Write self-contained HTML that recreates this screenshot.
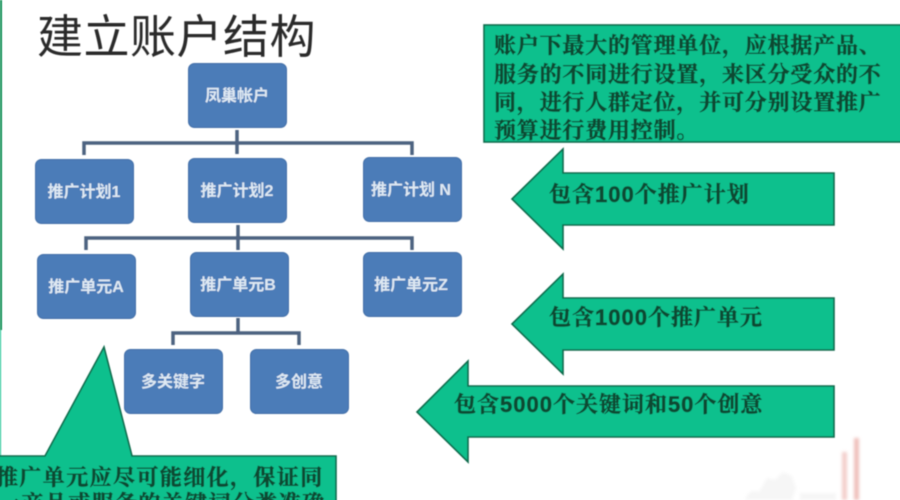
<!DOCTYPE html>
<html><head><meta charset="utf-8"><style>
html,body{margin:0;padding:0;background:#fff;width:900px;height:500px;overflow:hidden}
svg{display:block;position:absolute;left:0;top:0}
text{font-family:"Liberation Sans","Noto Sans CJK SC",sans-serif}
.b{fill:#4b7bb8;stroke:#4470a8;stroke-width:1}
.w{fill:#dfe9f3;font-size:16px;font-weight:700;text-anchor:middle}
.g{fill:#10c08d;stroke:#0e6b4c;stroke-width:1.600}
.t{fill:#0b4a33;stroke:#0b4a33;stroke-width:.5px;font-size:22px;font-weight:700;letter-spacing:1px;font-family:"Liberation Sans","Noto Serif CJK SC",serif}
.l{fill:none;stroke:#4d6280;stroke-width:3.500}
</style></head><body>
<svg width="900" height="500" viewBox="0 0 900 500" xmlns="http://www.w3.org/2000/svg">
<defs><filter id="s" x="-5%" y="-5%" width="110%" height="110%"><feGaussianBlur stdDeviation="0.6"/></filter>
<filter id="s2" x="-50%" y="-10%" width="200%" height="120%"><feGaussianBlur stdDeviation="1.5"/></filter></defs>
<rect width="900" height="500" fill="#fff"/>
<g filter="url(#s2)">
<rect x="842" y="452" width="5" height="48" fill="#efbdba" opacity="0.75"/>
<rect x="854" y="438" width="5" height="62" fill="#ebb0ab" opacity="0.8"/>
<path d="M745 500q4-12 14-8l8-14 8 2 8-8 9 4 4 12-4 12z" fill="#f6f6f6"/>
<rect x="800" y="493" width="36" height="7" fill="#f6f6f6"/>
</g>
<g filter="url(#s)">
<rect x="0" y="0" width="2" height="330" fill="#0a8f55"/>
<rect x="0" y="330" width="1" height="130" fill="#0dbf8c"/>
<text x="37" y="53" font-size="46" fill="#2a2a2a" letter-spacing="0.500">建立账户结构</text>

<path class="l" d="M237 130V154M84 155V143H412V155"/>
<path class="l" d="M238 225V250M86 250V238H412V250"/>
<path class="l" d="M238 318V333M173 345V333H299V345"/>

<rect class="b" x="188.500" y="63.500" width="98" height="64" rx="6"/>
<rect class="b" x="35.500" y="159.500" width="98" height="64" rx="6"/>
<rect class="b" x="188.500" y="158.500" width="98" height="64" rx="6"/>
<rect class="b" x="363.500" y="157.500" width="98" height="64" rx="6"/>
<rect class="b" x="37.500" y="254.500" width="98" height="64" rx="6"/>
<rect class="b" x="190.500" y="252.500" width="98" height="64" rx="6"/>
<rect class="b" x="363.500" y="252.500" width="98" height="64" rx="6"/>
<rect class="b" x="124.500" y="349.500" width="98" height="64" rx="6"/>
<rect class="b" x="250.500" y="349.500" width="98" height="64" rx="6"/>

<text class="w" x="237" y="101">凤巢帐户</text>
<text class="w" x="84" y="197">推广计划1</text>
<text class="w" x="237" y="196">推广计划2</text>
<text class="w" x="411" y="195">推广计划 N</text>
<text class="w" x="86" y="292">推广单元A</text>
<text class="w" x="238" y="290">推广单元B</text>
<text class="w" x="411" y="290">推广单元Z</text>
<text class="w" x="173" y="387">多关键字</text>
<text class="w" x="299" y="387">多创意</text>

<rect class="g" x="484" y="25" width="420" height="117"/>
<text class="t" x="494" y="53" style="letter-spacing:.8px">账户下最大的管理单位，应根据产品、</text>
<text class="t" x="494" y="82" style="letter-spacing:.8px">服务的不同进行设置，来区分受众的不</text>
<text class="t" x="494" y="110" style="letter-spacing:.8px">同，进行人群定位，并可分别设置推广</text>
<text class="t" x="494" y="138" style="letter-spacing:.8px">预算进行费用控制。</text>

<polygon class="g" points="512,199 563,149 563,173 834,173 834,225 563,225 563,249"/>
<polygon class="g" points="512,324 563,274 563,298 834,298 834,350 563,350 563,374"/>
<polygon class="g" points="417,412 468,361 468,386 834,386 834,437 468,437 468,462"/>
<text class="t" x="549" y="202">包含100个推广计划</text>
<text class="t" x="549" y="325">包含1000个推广单元</text>
<text class="t" x="454" y="412">包含5000个关键词和50个创意</text>

<polygon class="g" points="-3,456 45,456 104,347 132,456 336,456 336,503 -3,503"/>
<text class="t" x="-4" y="485" style="letter-spacing:1.400px">推广单元应尽可能细化，保证同</text>
<text class="t" x="-2" y="511" style="letter-spacing:1.400px">一产品或服务的关键词分类准确</text>
</g>
</svg>
</body></html>
